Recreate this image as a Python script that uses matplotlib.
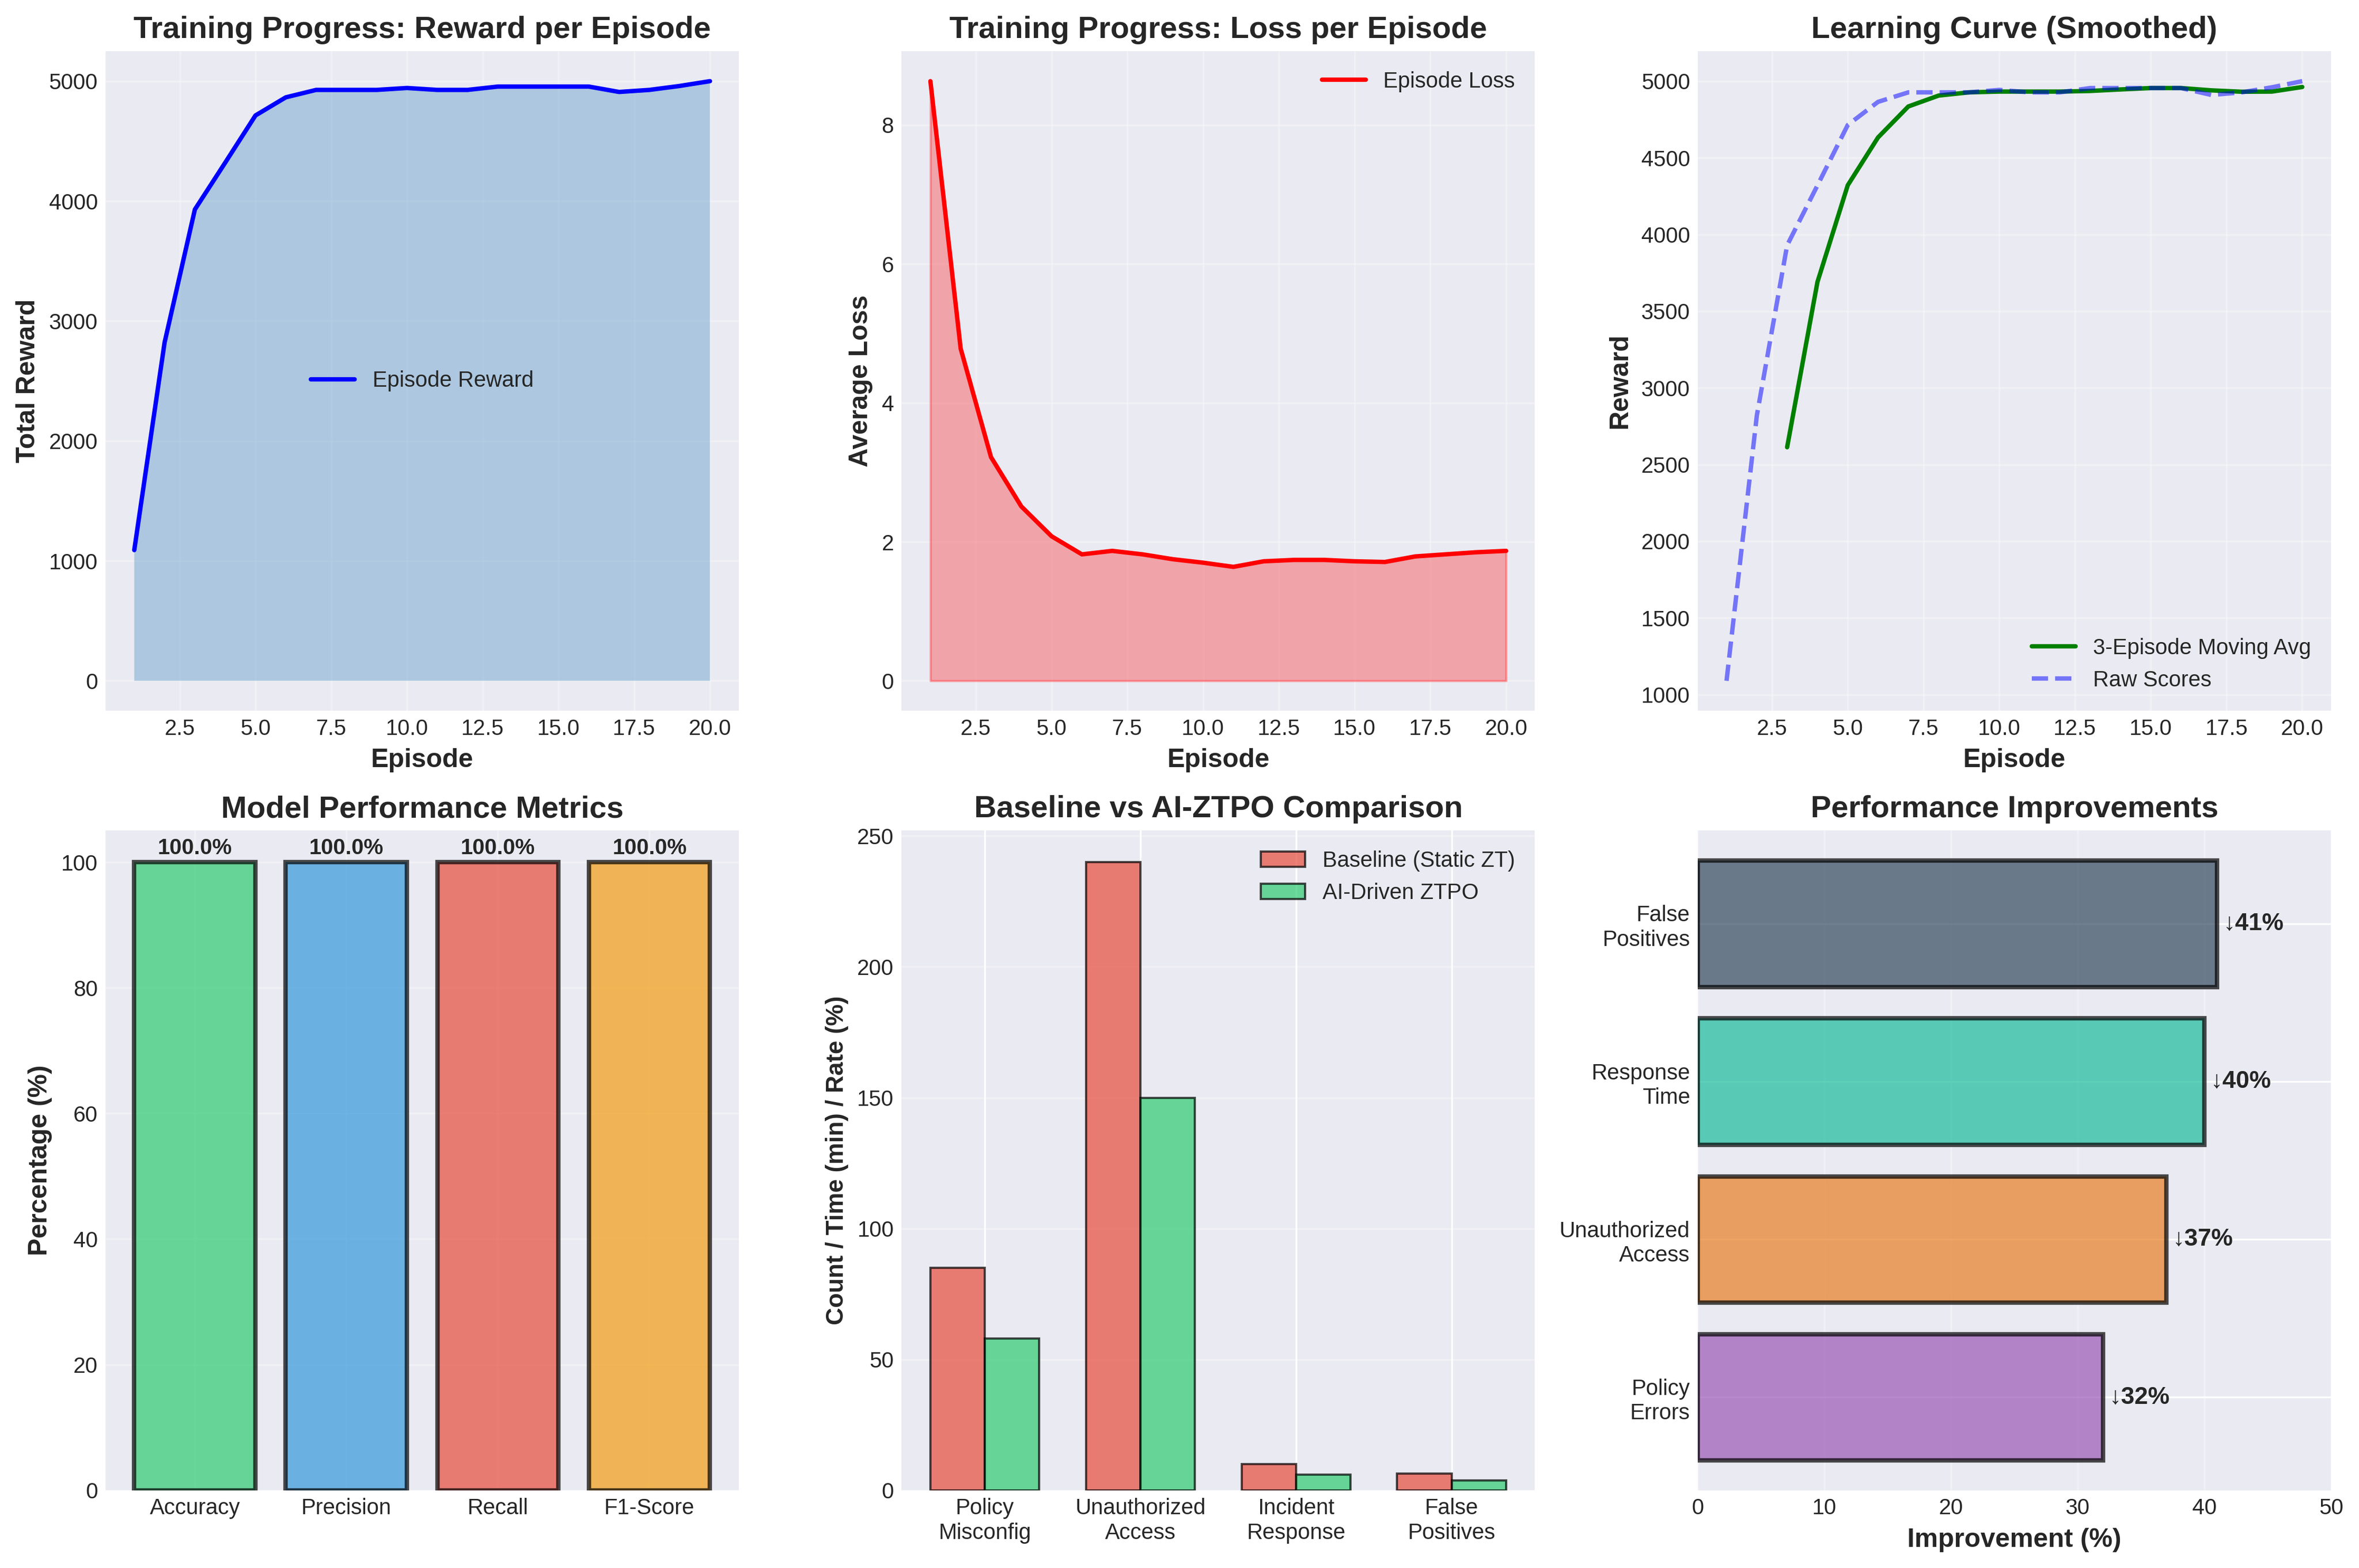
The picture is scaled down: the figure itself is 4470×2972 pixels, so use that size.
import numpy as np
import matplotlib
matplotlib.use("Agg")
import matplotlib.pyplot as plt

plt.style.use("seaborn-v0_8-darkgrid")
plt.rcParams['font.family'] = ['Liberation Sans', 'DejaVu Sans']

# training data
episodes = np.arange(1, 21)
rewards = [1090, 2820, 3930, 4320, 4714, 4865, 4927, 4927, 4927, 4943,
           4927, 4927, 4955, 4955, 4955, 4955, 4910, 4927, 4960, 5000]
losses = [8.63, 4.78, 3.22, 2.51, 2.08, 1.82, 1.87, 1.82, 1.75, 1.70,
          1.64, 1.72, 1.74, 1.74, 1.72, 1.71, 1.79, 1.82, 1.85, 1.87]
smooth_episodes = np.arange(3, 21)
smooth_rewards = [2613, 3690, 4321, 4633, 4835, 4906, 4927, 4932, 4932,
                  4932, 4936, 4946, 4955, 4955, 4940, 4931, 4932, 4962]

# metrics
metric_names = ['Accuracy', 'Precision', 'Recall', 'F1-Score']
metric_values = [100.0, 100.0, 100.0, 100.0]
metric_colors = ['#2ecc71', '#3498db', '#e74c3c', '#f39c12']

# comparison
comp_labels = ['Policy\nMisconfig', 'Unauthorized\nAccess', 'Incident\nResponse', 'False\nPositives']
baseline = [85, 240, 10, 6.3]
ai_ztpo = [58, 150, 6, 3.7]

# improvements
imp_labels = ['Policy\nErrors', 'Unauthorized\nAccess', 'Response\nTime', 'False\nPositives']
imp_values = [32, 37, 40, 41]
imp_colors = ['#9b59b6', '#e67e22', '#1abc9c', '#34495e']

fig, axes = plt.subplots(2, 3, figsize=(15, 10))

ax = axes[0, 0]
ax.plot(episodes, rewards, color='blue', linewidth=2, label='Episode Reward')
ax.fill_between(episodes, rewards, alpha=0.3)
ax.set_title('Training Progress: Reward per Episode', fontsize=14, fontweight='bold')
ax.set_xlabel('Episode', fontsize=12, fontweight='bold')
ax.set_ylabel('Total Reward', fontsize=12, fontweight='bold')
ax.legend(loc='center')
ax.grid(True, alpha=0.3)

ax = axes[0, 1]
ax.plot(episodes, losses, color='red', linewidth=2, label='Episode Loss')
ax.fill_between(episodes, losses, alpha=0.3, color='red')
ax.set_title('Training Progress: Loss per Episode', fontsize=14, fontweight='bold')
ax.set_xlabel('Episode', fontsize=12, fontweight='bold')
ax.set_ylabel('Average Loss', fontsize=12, fontweight='bold')
ax.legend(loc='upper right')
ax.grid(True, alpha=0.3)

ax = axes[0, 2]
ax.plot(smooth_episodes, smooth_rewards, color='green', linewidth=2, label='3-Episode Moving Avg')
ax.plot(episodes, rewards, 'b--', alpha=0.5, linewidth=2, label='Raw Scores')
ax.set_title('Learning Curve (Smoothed)', fontsize=14, fontweight='bold')
ax.set_xlabel('Episode', fontsize=12, fontweight='bold')
ax.set_ylabel('Reward', fontsize=12, fontweight='bold')
ax.legend(loc='lower right')
ax.grid(True, alpha=0.3)

ax = axes[1, 0]
bars = ax.bar(metric_names, metric_values, color=metric_colors, alpha=0.7,
              edgecolor='black', linewidth=2)
for b, v in zip(bars, metric_values):
    ax.text(b.get_x() + b.get_width() / 2, b.get_height() + 0.5, f'{v:.1f}%',
            ha='center', va='bottom', fontsize=10, fontweight='bold')
ax.set_ylim(0, 105)
ax.set_title('Model Performance Metrics', fontsize=14, fontweight='bold')
ax.set_ylabel('Percentage (%)', fontsize=12, fontweight='bold')
ax.grid(True, alpha=0.3)

ax = axes[1, 1]
x = np.arange(len(comp_labels))
w = 0.35
ax.bar(x - w / 2, baseline, w, label='Baseline (Static ZT)', color='#e74c3c',
       alpha=0.7, edgecolor='black', linewidth=1)
ax.bar(x + w / 2, ai_ztpo, w, label='AI-Driven ZTPO', color='#2ecc71',
       alpha=0.7, edgecolor='black', linewidth=1)
ax.set_xticks(x)
ax.set_xticklabels(comp_labels)
ax.set_title('Baseline vs AI-ZTPO Comparison', fontsize=14, fontweight='bold')
ax.set_ylabel('Count / Time (min) / Rate (%)', fontsize=11, fontweight='bold')
ax.legend(loc='upper right')
ax.grid(axis='y', alpha=0.3)

ax = axes[1, 2]
hb = ax.barh(imp_labels, imp_values, color=imp_colors, alpha=0.7,
             edgecolor='black', linewidth=2, height=0.8)
for b, v in zip(hb, imp_values):
    ax.text(v + 0.5, b.get_y() + b.get_height() / 2, f'↓{v}%',
            va='center', fontsize=11, fontweight='bold')
ax.set_xlim(0, 50)
ax.set_title('Performance Improvements', fontsize=14, fontweight='bold')
ax.set_xlabel('Improvement (%)', fontsize=12, fontweight='bold')
ax.grid(axis='x', alpha=0.3)

plt.tight_layout()
plt.savefig('out.png', dpi=300, bbox_inches='tight')
